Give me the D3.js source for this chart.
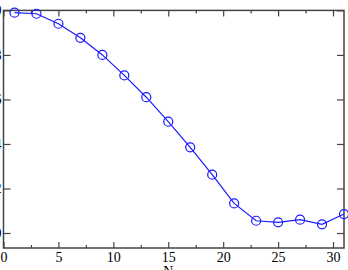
<!DOCTYPE html>
<html>
<head>
<meta charset="utf-8">
<script src="https://cdn.jsdelivr.net/npm/d3@7"></script>
<style>
  body { margin: 0; background: #fff; }
  svg { display: block; }
  .axis path { stroke: none; }
  .axis line { stroke: #444; stroke-width: 1.2; }
  .axis text { font-family: "Liberation Serif", "DejaVu Serif", serif; font-size: 14px; fill: #000; }
</style>
</head>
<body>
<div id="chart"></div>
<script>
// values
const nValues = [1, 3, 5, 7, 9, 11, 13, 15, 17, 19, 21, 23, 25, 27, 29, 31];
const yValues = [0.990, 0.985, 0.940, 0.877, 0.800, 0.708, 0.610, 0.500,
                 0.385, 0.262, 0.133, 0.055, 0.048, 0.060, 0.039, 0.085];
const xTicks = [0, 5, 10, 15, 20, 25, 30];
const xMinorTicks = [2.5, 7.5, 12.5, 17.5, 22.5, 27.5];
const yTicks = [0, 0.2, 0.4, 0.6, 0.8, 1.0];
const xLabel = "N";

const width = 348, height = 270;
const plotLeft = 3.5, plotRight = 344, plotTop = 10.4, plotBottom = 248;

const x = d3.scaleLinear().domain([0, 31]).range([plotLeft, plotRight]);
// 0 sits on the lowest tick, a bit above the frame bottom
const y = d3.scaleLinear().domain([0, 1]).range([233, plotTop]);

const svg = d3.select("#chart").append("svg")
  .attr("width", width)
  .attr("height", height);

// frame
svg.append("rect")
  .attr("x", plotLeft)
  .attr("y", plotTop)
  .attr("width", plotRight - plotLeft)
  .attr("height", plotBottom - plotTop)
  .attr("fill", "none")
  .attr("stroke", "#444")
  .attr("stroke-width", 1.5);

// bottom axis, ticks pointing inward
svg.append("g")
  .attr("class", "axis")
  .attr("transform", `translate(0 ${plotBottom})`)
  .call(d3.axisBottom(x).tickValues(xTicks).tickSize(-6).tickPadding(4).tickFormat(d3.format("d")));

svg.append("g")
  .attr("class", "axis")
  .attr("transform", `translate(0 ${plotBottom})`)
  .call(d3.axisBottom(x).tickValues(xMinorTicks).tickSize(-3).tickFormat(""));

// top axis
svg.append("g")
  .attr("class", "axis")
  .attr("transform", `translate(0 ${plotTop})`)
  .call(d3.axisTop(x).tickValues(xTicks).tickSize(-6).tickFormat(""));

svg.append("g")
  .attr("class", "axis")
  .attr("transform", `translate(0 ${plotTop})`)
  .call(d3.axisTop(x).tickValues(xMinorTicks).tickSize(-3).tickFormat(""));

// left axis, labels fall mostly outside the window
svg.append("g")
  .attr("class", "axis")
  .attr("transform", `translate(${plotLeft} 0)`)
  .call(d3.axisLeft(y).tickValues(yTicks).tickSize(-7).tickPadding(2).tickFormat(d3.format(".1f")));

// right axis
svg.append("g")
  .attr("class", "axis")
  .attr("transform", `translate(${plotRight} 0)`)
  .call(d3.axisRight(y).tickValues(yTicks).tickSize(-7).tickFormat(""));

// x label, mostly cut off at the bottom
svg.append("text")
  .attr("x", x(15))
  .attr("y", 276)
  .attr("text-anchor", "middle")
  .attr("font-family", "Liberation Serif, DejaVu Serif, serif")
  .attr("font-size", 14)
  .text(xLabel);

const data = nValues.map((n, i) => ({n: n, v: yValues[i]}));

const line = d3.line()
  .x(d => x(d.n))
  .y(d => y(d.v));

svg.append("path")
  .datum(data)
  .attr("d", line)
  .attr("fill", "none")
  .attr("stroke", "#1a1aff")
  .attr("stroke-width", 1.2);

svg.selectAll(".pt")
  .data(data)
  .enter()
  .append("circle")
  .attr("class", "pt")
  .attr("cx", d => x(d.n))
  .attr("cy", d => y(d.v))
  .attr("r", 4.5)
  .attr("fill", "none")
  .attr("stroke", "#1a1aff")
  .attr("stroke-width", 1.2);
</script>
</body>
</html>
